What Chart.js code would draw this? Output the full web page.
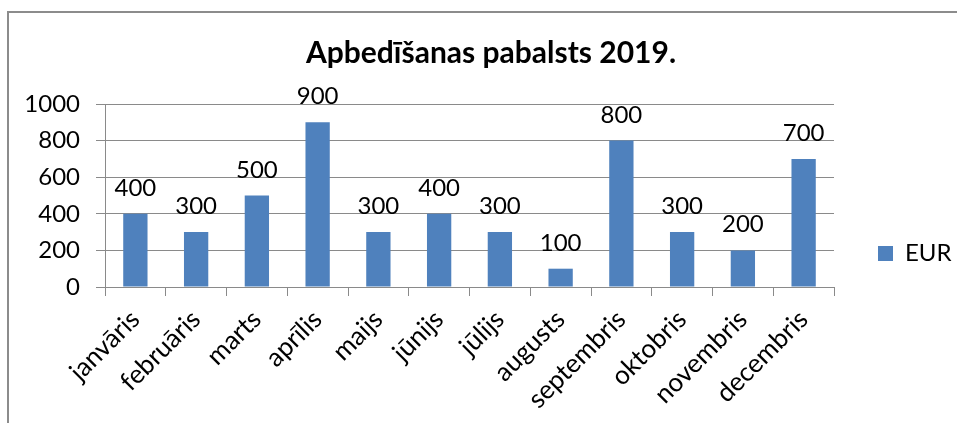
<!DOCTYPE html>
<html>
<head>
<meta charset="utf-8">
<title>Apbedīšanas pabalsts 2019.</title>
<script src="https://cdn.jsdelivr.net/npm/chart.js@4"></script>
<style>
  html, body { margin: 0; padding: 0; background: #fff; }
  #wrap { width: 957px; height: 423px; }
</style>
</head>
<body>
<div id="wrap"><canvas id="chart"></canvas></div>
<script>
// Months of 2019 and the paid amounts (EUR)
const months = [
  'janvāris', 'februāris', 'marts', 'aprīlis',
  'maijs', 'jūnijs', 'jūlijs', 'augusts',
  'septembris', 'oktobris', 'novembris', 'decembris'
];

const eur = [400, 300, 500, 900, 300, 400, 300, 100, 800, 300, 200, 700];

const yTicks = [0, 200, 400, 600, 800, 1000];

const FONT = 'Lato, "Open Sans", sans-serif';
const GRID = '#8a8a8a';

// gray frame along top and left edge
const frame = {
  id: 'frame',
  beforeDraw(chart) {
    const c = chart.ctx;
    c.save();
    c.strokeStyle = '#8c8c8c';
    c.lineWidth = 2;
    c.beginPath();
    c.moveTo(8, 423);
    c.lineTo(8, 12);
    c.lineTo(957, 12);
    c.stroke();
    c.restore();
  }
};

// value labels above each bar
const barLabels = {
  id: 'barLabels',
  afterDatasetsDraw(chart) {
    const c = chart.ctx;
    const meta = chart.getDatasetMeta(0);
    c.save();
    c.font = '24px ' + FONT;
    c.fillStyle = '#000';
    c.textAlign = 'center';
    c.textBaseline = 'alphabetic';
    meta.data.forEach((bar, i) => {
      c.fillText(eur[i], bar.x, bar.y - 18);
    });
    c.restore();
  }
};

// fixed legend width, then nudge legend item into place
const legendBox = {
  id: 'legendBox',
  afterInit(chart) {
    const lg = chart.legend;
    const fit = lg.fit;
    lg.fit = function () {
      fit.call(this);
      this.width = 123;
    };
  },
  afterLayout(chart) {
    const lg = chart.legend;
    lg.left += 34; lg.right += 34;
    lg.top += 42; lg.bottom += 42;
  }
};

new Chart(document.getElementById('chart'), {
  type: 'bar',
  data: {
    labels: months,
    datasets: [{
      label: 'EUR',
      data: eur,
      backgroundColor: '#4f81bd',
      borderWidth: 0,
      barPercentage: 0.8,
      categoryPercentage: 0.5
    }]
  },
  options: {
    responsive: true,
    maintainAspectRatio: false,
    animation: false,
    layout: { padding: { left: 25, right: 0, top: 0, bottom: 0 } },
    plugins: {
      title: {
        display: true,
        text: 'Apbedīšanas pabalsts 2019.',
        color: '#000',
        font: { family: FONT, size: 30, weight: 'bold' },
        padding: { top: 35, bottom: 33 }
      },
      legend: {
        position: 'right',
        labels: {
          color: '#000',
          font: { family: FONT, size: 24 },
          boxWidth: 15,
          boxHeight: 15
        }
      },
      tooltip: { enabled: false }
    },
    scales: {
      x: {
        afterFit(scale) { scale.height = 136; },
        ticks: {
          color: '#000',
          font: { family: FONT, size: 26 },
          minRotation: 45,
          maxRotation: 45,
          padding: 8
        },
        grid: {
          drawOnChartArea: false,
          drawTicks: true,
          tickLength: 9,
          color: GRID
        },
        border: { color: GRID }
      },
      y: {
        min: 0,
        max: 1000,
        afterFit(scale) { scale.width = 80; },
        afterBuildTicks(scale) {
          scale.ticks = yTicks.map(v => ({ value: v }));
        },
        ticks: {
          color: '#000',
          font: { family: FONT, size: 24 },
          padding: 16,
          callback: v => String(v)
        },
        grid: {
          color: GRID,
          tickLength: 9
        },
        border: { color: GRID }
      }
    }
  },
  plugins: [frame, barLabels, legendBox]
});
</script>
</body>
</html>
